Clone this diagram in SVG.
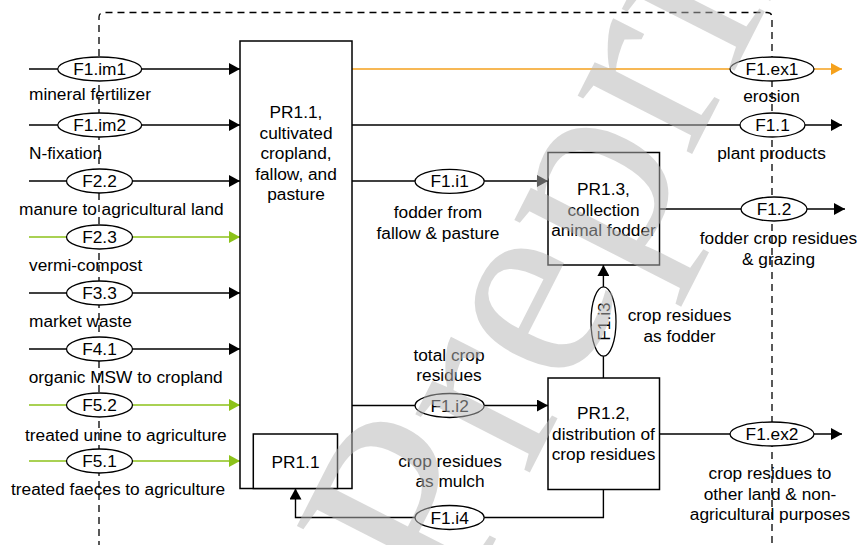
<svg xmlns="http://www.w3.org/2000/svg" width="861" height="545" viewBox="0 0 861 545">
<defs>
<style>
text{font-family:"Liberation Sans",Arial,sans-serif;font-size:17.3px;fill:#000}
.c{text-anchor:middle}
.box{fill:#fff;stroke:#000;stroke-width:1.5}
.el{fill:#fff;stroke:#000;stroke-width:1.3}
.ln{fill:none;stroke:#000;stroke-width:1.4}
.g{stroke:#8cc21a}
.o{stroke:#f5a11c}
.bd{fill:none;stroke:#000;stroke-width:1.3;stroke-dasharray:7 5}
.wm{font-family:"Liberation Serif","Times New Roman",serif;font-size:280px;fill:#b7b7b7;fill-opacity:0.52}
</style>
<marker id="ab" viewBox="0 0 11 12" refX="11" refY="6" markerWidth="11" markerHeight="12" markerUnits="userSpaceOnUse" orient="auto"><path d="M0,0L11,6L0,12z" fill="#000"/></marker>
<marker id="ag" viewBox="0 0 11 12" refX="11" refY="6" markerWidth="11" markerHeight="12" markerUnits="userSpaceOnUse" orient="auto"><path d="M0,0L11,6L0,12z" fill="#8cc21a"/></marker>
<marker id="ao" viewBox="0 0 11 12" refX="11" refY="6" markerWidth="11" markerHeight="12" markerUnits="userSpaceOnUse" orient="auto"><path d="M0,0L11,6L0,12z" fill="#f5a11c"/></marker>
</defs>
<rect width="861" height="545" fill="#fff"/>
<path id="boundary" class="bd" d="M99,560V17Q99,12.5 104,12.5H767Q772,12.5 772,17.5V560"/>

<g id="connectors">
<path class="ln" d="M29,69H240" marker-end="url(#ab)"/>
<path class="ln" d="M29,125H240" marker-end="url(#ab)"/>
<path class="ln" d="M29,181H240" marker-end="url(#ab)"/>
<path class="ln g" d="M29,237H240" marker-end="url(#ag)"/>
<path class="ln" d="M29,293H240" marker-end="url(#ab)"/>
<path class="ln" d="M29,349H240" marker-end="url(#ab)"/>
<path class="ln g" d="M29,405H240" marker-end="url(#ag)"/>
<path class="ln g" d="M29,461H240" marker-end="url(#ag)"/>
<path class="ln o" d="M352,69H842" marker-end="url(#ao)"/>
<path class="ln" d="M352,125H842" marker-end="url(#ab)"/>
<path class="ln" d="M352,181H548" marker-end="url(#ab)"/>
<path class="ln" d="M660,209H845" marker-end="url(#ab)"/>
<path class="ln" d="M352,405.5H548" marker-end="url(#ab)"/>
<path class="ln" d="M603.4,378V265" marker-end="url(#ab)"/>
<path class="ln" d="M660,434H842" marker-end="url(#ab)"/>
<path class="ln" d="M603.4,489.5V517.5H295.5V488.5" marker-end="url(#ab)"/>
</g>

<g id="labels">
<text x="29" y="99.5">mineral fertilizer</text>
<text x="29" y="159">N-fixation</text>
<text x="19" y="215">manure to agricultural land</text>
<text x="29" y="271">vermi-compost</text>
<text x="29" y="327">market waste</text>
<text x="28.7" y="383">organic MSW to cropland</text>
<text x="25" y="440.5">treated urine to agriculture</text>
<text x="11" y="495">treated faeces to agriculture</text>
<text class="c" x="771.5" y="101.5">erosion</text>
<text class="c" x="771.5" y="159">plant products</text>
<text class="c" x="438" y="218">fodder from</text>
<text class="c" x="438" y="238.5">fallow &amp; pasture</text>
<text class="c" x="778.5" y="244">fodder crop residues</text>
<text class="c" x="778.5" y="265">&amp; grazing</text>
<text class="c" x="679.5" y="321">crop residues</text>
<text class="c" x="679.5" y="341.5">as fodder</text>
<text class="c" x="449" y="361">total crop</text>
<text class="c" x="449" y="381">residues</text>
<text class="c" x="450" y="467">crop residues</text>
<text class="c" x="450" y="487">as mulch</text>
<text class="c" x="770" y="479">crop residues to</text>
<text class="c" x="770" y="499.5">other land &amp; non-</text>
<text class="c" x="770" y="519.5">agricultural purposes</text>
</g>

<g id="PR1.1">
<rect class="box" x="240" y="41" width="112" height="447.5"/>
<text class="c" x="296" y="118">PR1.1,</text>
<text class="c" x="296" y="138.5">cultivated</text>
<text class="c" x="296" y="159">cropland,</text>
<text class="c" x="296" y="179.5">fallow, and</text>
<text class="c" x="296" y="200">pasture</text>
</g>
<g id="PR1.1-sub">
<rect class="box" x="253.3" y="434" width="84.2" height="54.5"/>
<text class="c" x="295.5" y="468">PR1.1</text>
</g>
<g id="PR1.3">
<rect class="box" x="548" y="152.5" width="111.5" height="112.5"/>
<text class="c" x="603.5" y="195">PR1.3,</text>
<text class="c" x="603.5" y="215.5">collection</text>
<text class="c" x="603.5" y="236">animal fodder</text>
</g>
<g id="PR1.2">
<rect class="box" x="548" y="378" width="111.5" height="111.5"/>
<text class="c" x="603.5" y="419">PR1.2,</text>
<text class="c" x="603.5" y="439.5">distribution of</text>
<text class="c" x="603.5" y="460">crop residues</text>
</g>

<g id="F1.im1"><ellipse class="el" cx="99.7" cy="69" rx="42" ry="12"/><text class="c" x="99.7" y="75">F1.im1</text></g>
<g id="F1.im2"><ellipse class="el" cx="99.7" cy="125" rx="42" ry="12"/><text class="c" x="99.7" y="131">F1.im2</text></g>
<g id="F2.2"><ellipse class="el" cx="99.5" cy="181" rx="33" ry="12"/><text class="c" x="99.5" y="187">F2.2</text></g>
<g id="F2.3"><ellipse class="el" cx="99.5" cy="237" rx="33" ry="12"/><text class="c" x="99.5" y="243">F2.3</text></g>
<g id="F3.3"><ellipse class="el" cx="99.5" cy="293" rx="33" ry="12"/><text class="c" x="99.5" y="299">F3.3</text></g>
<g id="F4.1"><ellipse class="el" cx="99.5" cy="349" rx="33" ry="12"/><text class="c" x="99.5" y="355">F4.1</text></g>
<g id="F5.2"><ellipse class="el" cx="99.5" cy="405" rx="33" ry="12"/><text class="c" x="99.5" y="411">F5.2</text></g>
<g id="F5.1"><ellipse class="el" cx="99.5" cy="461" rx="33" ry="12"/><text class="c" x="99.5" y="467">F5.1</text></g>
<g id="F1.ex1"><ellipse class="el" cx="772" cy="69" rx="42" ry="12"/><text class="c" x="772" y="75">F1.ex1</text></g>
<g id="F1.1"><ellipse class="el" cx="772.5" cy="125" rx="32.5" ry="12"/><text class="c" x="772.5" y="131">F1.1</text></g>
<g id="F1.i1"><ellipse class="el" cx="449.6" cy="181.3" rx="34.6" ry="12"/><text class="c" x="449.6" y="187.3">F1.i1</text></g>
<g id="F1.2"><ellipse class="el" cx="774" cy="209" rx="33" ry="12"/><text class="c" x="774" y="215">F1.2</text></g>
<g id="F1.i3"><ellipse class="el" cx="603.5" cy="321.5" rx="12.5" ry="34.7"/><text class="c" transform="translate(609.6,321.5) rotate(-90)">F1.i3</text></g>
<g id="F1.i2"><ellipse class="el" cx="449.6" cy="405.5" rx="34.6" ry="12"/><text class="c" x="449.6" y="411.5">F1.i2</text></g>
<g id="F1.ex2"><ellipse class="el" cx="772" cy="434" rx="42" ry="12"/><text class="c" x="772" y="440">F1.ex2</text></g>
<g id="F1.i4"><ellipse class="el" cx="449.6" cy="517.5" rx="34.6" ry="12"/><text class="c" x="449.6" y="523.5">F1.i4</text></g>

<text class="wm" transform="translate(456.6,616.3) rotate(-63)">Preprint</text>
</svg>
